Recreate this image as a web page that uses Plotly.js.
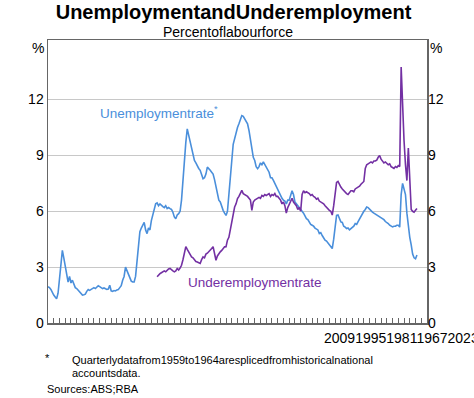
<!DOCTYPE html>
<html>
<head>
<meta charset="utf-8">
<script src="https://cdn.plot.ly/plotly-3.0.1.min.js"></script>
<style>html,body{margin:0;padding:0;background:#fff;}#chart{width:474px;height:398px;}</style>
</head>
<body>
<div id="chart"></div>
<script>
// Quarterly series (first value = Q1 of the start year)
const unempStart = 1959;
const unempRate = [
 1.95,1.9,1.8,1.6, 1.5,1.4,1.3,1.6, 2.3,3.3,3.9,3.5, 3.0,2.5,2.2,2.5,
 2.15,2.3,2.1,1.9, 1.85,1.75,1.65,1.55, 1.5,1.52,1.55,1.7, 1.8,1.75,1.8,1.85,
 1.9,1.85,1.95,2.0, 1.95,1.88,1.85,1.88, 1.85,1.8,1.82,2.03, 1.73,1.7,1.74,1.72,
 1.78,1.8,1.9,2.0, 2.3,2.5,3.0,2.8, 2.6,2.4,2.25,2.2, 2.2,2.5,3.3,4.4,
 4.9,5.1,5.3,5.4, 5.0,4.8,5.1,5.0, 5.5,5.8,6.1,6.4,
 6.45,6.3,6.4,6.3, 6.25,6.2,6.3,6.15, 6.2,6.14,6.1,5.95, 5.7,5.6,5.8,5.87,
 6.0,6.6,7.6,9.0, 9.7,10.43,10.1,9.6, 9.4,9.0,8.73,8.6, 8.4,8.3,8.2,7.9,
 7.75,7.8,8.0,8.37, 8.3,8.2,8.1,8.0, 7.7,7.3,7.0,6.6, 6.5,6.2,6.05,5.9,
 5.78,6.0,6.8,7.5, 8.7,9.6,9.9,10.3, 10.5,10.7,11.0,11.14, 11.1,10.95,10.87,10.7,
 10.34,9.8,9.3,8.9, 8.73,8.4,8.29,8.4, 8.6,8.5,8.65,8.5, 8.4,8.2,8.1,7.8,
 7.8,7.66,7.5,7.3, 7.2,7.0,6.9,6.7, 6.6,6.55,6.4,6.6, 6.6,6.8,7.1,6.9,
 6.5,6.4,6.3,6.2, 6.1,6.05,5.9,5.75, 5.6,5.55,5.4,5.3, 5.25,5.2,5.1,5.07,
 5.0,4.8,4.85,4.7, 4.55,4.45,4.4,4.3, 4.18,4.05,4.0,4.5, 5.2,5.78,5.8,5.6,
 5.43,5.4,5.2,5.15, 5.07,5.1,5.0,5.07, 5.15,5.2,5.34,5.3, 5.45,5.6,5.7,5.9,
 6.0,6.1,6.23,6.2, 6.1,6.05,5.96,5.9, 5.85,5.8,5.78,5.7, 5.65,5.6,5.55,5.45,
 5.4,5.34,5.25,5.2, 5.16,5.2,5.2,5.25, 5.25,5.15,6.9,7.5, 7.2,6.9,5.9,5.2,
 4.6,4.2,3.7,3.5, 3.45,3.65
];
const underStart = 1978;
const underRate = [
 2.48,2.6,2.65,2.7, 2.75,2.8,2.75,2.85, 2.9,2.93,2.85,2.8, 2.75,2.8,2.93,2.85,
 2.95,3.1,3.4,3.7, 4.1,3.95,3.8,3.7, 3.55,3.5,3.4,3.3, 3.28,3.25,3.2,3.4,
 3.55,3.5,3.7,3.75, 3.82,3.9,4.0,4.1, 3.8,3.37,3.6,3.75, 3.82,3.9,4.0,4.09,
 4.1,4.45,4.6,5.0, 5.34,5.8,6.23,6.4, 6.68,6.8,7.0,7.12, 6.95,6.9,6.86,6.8,
 6.7,6.6,6.05,6.5, 6.6,6.65,6.7,6.75, 6.7,6.85,6.8,6.9, 6.85,6.9,6.95,6.8,
 6.9,6.85,6.95,6.8, 6.8,6.7,6.6,6.4, 6.5,6.3,5.9,6.2, 6.4,6.5,6.7,6.5,
 6.4,6.3,6.1,6.2, 6.0,6.9,7.1,7.0, 7.05,7.0,6.95,6.85, 6.9,6.8,6.75,6.65,
 6.7,6.55,6.5,6.45, 6.4,6.3,6.2,6.1, 6.05,6.0,5.8,6.3, 7.0,7.55,7.6,7.4,
 7.3,7.2,7.1,7.0, 6.95,6.9,7.0,7.1, 7.1,7.05,7.2,7.25, 7.3,7.35,7.45,7.55,
 7.6,8.3,8.5,8.55, 8.6,8.65,8.6,8.7, 8.7,8.75,8.9,9.0, 8.8,8.7,8.6,8.65,
 8.55,8.5,8.55,8.4, 8.35,8.3,8.4,8.35, 8.45,8.4,13.75,11.3, 9.8,8.5,7.65,9.4,
 7.2,6.1,6.0,5.95, 6.05,6.15
];
const yTicks = [0,3,6,9,12];
const xTickLabels = ['2009','1995','1981','1967','2023'];
const seriesNames = ['Unemploymentrate', 'Underemploymentrate'];

function quarterly(start, vals){ return vals.map((v,i)=> start + i/4); }

const FONT = 'Arial, "Liberation Sans", sans-serif';
const BLUE = '#4a8fdb';
const PURPLE = '#7330a3';

const traces = [
 {x: quarterly(unempStart, unempRate), y: unempRate, type:'scatter', mode:'lines',
  line:{color:BLUE, width:1.6}, hoverinfo:'skip', name: seriesNames[0]},
 {x: quarterly(underStart, underRate), y: underRate, type:'scatter', mode:'lines',
  line:{color:PURPLE, width:1.6}, hoverinfo:'skip', name: seriesNames[1]},
 {x:[1959], y:[null], yaxis:'y2', type:'scatter', mode:'lines', showlegend:false, hoverinfo:'skip'}
];

// plot area in pixels: x 48..427, y 40..323
const L=48, R=427, T=40, B=323;
const px = v => (v-L)/(R-L);
const py = v => (B-v)/(B-T);

const ann = (text, x, y, size, color, xanchor, extra) => Object.assign({
  text, xref:'paper', yref:'paper', x:px(x), y:py(y), xanchor: xanchor||'center', yanchor:'middle',
  showarrow:false, font:{family:FONT, size, color: color||'#000'}}, extra||{});

const layout = {
  width:474, height:398,
  margin:{l:L, r:474-R, t:T, b:398-B, pad:0},
  paper_bgcolor:'#fff', plot_bgcolor:'#fff',
  showlegend:false,
  font:{family:FONT, size:14, color:'#000'},
  title:{text:'<b>UnemploymentandUnderemployment</b>', font:{family:FONT, size:20, color:'#000'},
         x:233.5/474, xanchor:'center', xref:'container', y:1-12/398, yanchor:'middle', yref:'container'},
  xaxis:{range:[1959,2025], tick0:1959, dtick:1, ticks:'inside', ticklen:5, tickcolor:'#666', tickwidth:1,
         showticklabels:false, showgrid:false, zeroline:false, showline:true, linecolor:'#666', linewidth:1.5, mirror:true},
  yaxis:{range:[0,15.2], tickvals:yTicks, ticks:'', showgrid:true, gridcolor:'#c8c8c8', gridwidth:1,
         zeroline:false, showline:true, linecolor:'#666', linewidth:1.5, mirror:true,
         tickfont:{family:FONT, size:14, color:'#000'}},
  yaxis2:{range:[0,15.2], tickvals:yTicks, overlaying:'y', side:'right', ticks:'', showgrid:false,
          zeroline:false, showline:false, tickfont:{family:FONT, size:14, color:'#000'}},
  annotations:[
    ann('Percentoflabourforce', 227.5, 32, 14),
    ann('%', 38, 48, 14),
    ann('%', 436, 48, 14),
    ann(seriesNames[0] + '<sup>*</sup>', 98, 112, 13.5, BLUE, 'left'),
    ann(seriesNames[1], 186, 282, 13.5, PURPLE, 'left'),
    ann(xTickLabels.join(''), 322, 338, 14, '#000', 'left'),
    ann('*', 47, 358, 11, '#000', 'center'),
    ann('Quarterlydatafrom1959to1964aresplicedfromhistoricalnational', 70, 360, 11, '#000', 'left'),
    ann('accountsdata.', 70, 373, 11, '#000', 'left'),
    ann('Sources:ABS;RBA', 45, 389, 11, '#000', 'left')
  ]
};

Plotly.newPlot('chart', traces, layout, {staticPlot:true, displayModeBar:false});
</script>
</body>
</html>
